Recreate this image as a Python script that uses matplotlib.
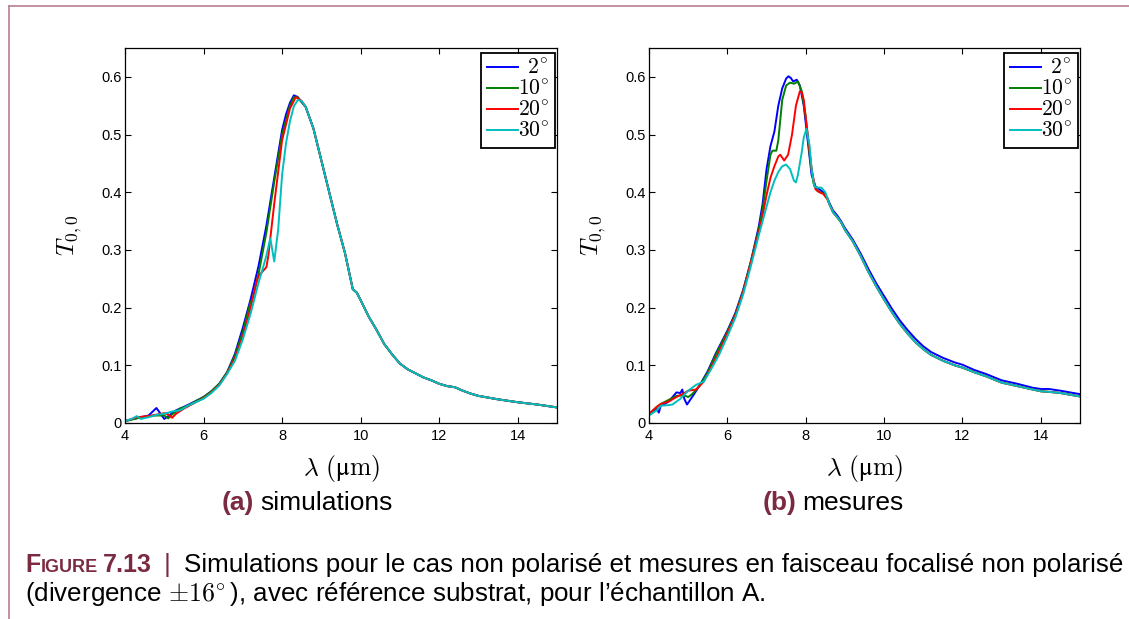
import numpy as np
import matplotlib
matplotlib.use("Agg")
import matplotlib.pyplot as plt
from matplotlib.lines import Line2D

plt.rcParams['font.family'] = ['Liberation Sans', 'DejaVu Sans']
plt.rcParams['mathtext.fontset'] = 'cm'

# ---- data ----
angles = ["2", "10", "20", "30"]
colors = ['#0000ff', '#007f00', '#ff0000', '#00bfbf']

# (a) simulations : common tail for x >= 8.6
sim_tail_x = [8.6, 8.8, 9.0, 9.2, 9.4, 9.6, 9.8, 9.9, 10.0, 10.2, 10.4, 10.6, 10.8, 11.0,
              11.2, 11.4, 11.6, 11.8, 12.0, 12.2, 12.4, 12.6, 12.8, 13.0, 13.5, 14.0, 14.5, 15.0]
sim_tail_y = [0.548, 0.51, 0.455, 0.40, 0.345, 0.295, 0.232, 0.226, 0.213, 0.185, 0.162, 0.137,
              0.119, 0.103, 0.093, 0.086, 0.079, 0.074, 0.068, 0.064, 0.062, 0.056, 0.051, 0.047,
              0.041, 0.036, 0.032, 0.027]

sim_2_x = [4.0, 4.2, 4.4, 4.6, 4.8, 5.0, 5.1, 5.3, 5.5, 5.8, 6.0, 6.2, 6.4, 6.6, 6.8, 7.0,
           7.2, 7.4, 7.6, 7.8, 8.0, 8.1, 8.2, 8.3, 8.4, 8.5]
sim_2_y = [0.003, 0.007, 0.01, 0.013, 0.026, 0.007, 0.012, 0.022, 0.028, 0.038, 0.045, 0.055,
           0.068, 0.088, 0.12, 0.165, 0.215, 0.272, 0.342, 0.425, 0.508, 0.535, 0.555, 0.568,
           0.565, 0.556]

sim_10_x = [4.0, 4.3, 4.6, 4.8, 5.0, 5.1, 5.2, 5.4, 5.6, 5.8, 6.0, 6.2, 6.4, 6.6, 6.8, 7.0,
            7.1, 7.2, 7.25, 7.4, 7.6, 7.8, 8.0, 8.2, 8.3, 8.4, 8.5]
sim_10_y = [0.003, 0.008, 0.012, 0.013, 0.013, 0.008, 0.015, 0.025, 0.03, 0.038, 0.045, 0.055,
            0.068, 0.088, 0.117, 0.158, 0.185, 0.21, 0.215, 0.258, 0.33, 0.418, 0.5, 0.55,
            0.565, 0.564, 0.556]

sim_20_x = [4.0, 4.3, 4.6, 5.0, 5.1, 5.2, 5.3, 5.5, 5.8, 6.0, 6.2, 6.4, 6.6, 6.8, 7.0, 7.2,
            7.35, 7.4, 7.6, 7.65, 7.7, 7.8, 8.0, 8.2, 8.35, 8.5]
sim_20_y = [0.003, 0.01, 0.012, 0.017, 0.015, 0.009, 0.016, 0.025, 0.036, 0.043, 0.053, 0.066,
            0.086, 0.112, 0.15, 0.2, 0.245, 0.255, 0.27, 0.29, 0.32, 0.38, 0.49, 0.545, 0.565,
            0.558]

sim_30_x = [4.0, 4.2, 4.3, 4.4, 4.6, 4.8, 5.0, 5.2, 5.4, 5.6, 5.8, 6.0, 6.2, 6.4, 6.6, 6.8,
            7.0, 7.2, 7.4, 7.5, 7.6, 7.7, 7.8, 7.9, 8.0, 8.1, 8.2, 8.3, 8.4, 8.5]
sim_30_y = [0.003, 0.008, 0.012, 0.007, 0.01, 0.014, 0.016, 0.02, 0.022, 0.03, 0.036, 0.042,
            0.052, 0.065, 0.085, 0.108, 0.145, 0.19, 0.243, 0.266, 0.29, 0.32, 0.28, 0.335,
            0.43, 0.485, 0.523, 0.549, 0.56, 0.558]

# (b) mesures
mes_tail_x = [8.6, 8.7, 8.8, 8.9, 9.0, 9.2, 9.4, 9.6, 9.8, 10.0, 10.2, 10.4, 10.6, 10.8, 11.0,
              11.2, 11.5, 11.8, 12.0, 12.3, 12.6, 13.0, 13.4, 13.8, 14.0, 14.2, 14.5, 15.0]
mes_tail_y = [0.38, 0.365, 0.357, 0.348, 0.335, 0.315, 0.29, 0.262, 0.237, 0.214, 0.192, 0.172,
              0.155, 0.14, 0.128, 0.118, 0.108, 0.1, 0.096, 0.088, 0.081, 0.07, 0.064, 0.058,
              0.055, 0.054, 0.052, 0.046]
mes_2_tail_y = [0.382, 0.368, 0.36, 0.35, 0.338, 0.318, 0.294, 0.267, 0.242, 0.22, 0.198, 0.178,
                0.161, 0.146, 0.133, 0.123, 0.113, 0.105, 0.101, 0.092, 0.085, 0.074, 0.068,
                0.061, 0.059, 0.059, 0.056, 0.05]

mes_2_x = [4.0, 4.1, 4.2, 4.25, 4.3, 4.4, 4.5, 4.6, 4.7, 4.8, 4.85, 4.9, 4.97, 5.05, 5.15, 5.3,
           5.5, 5.7, 6.0, 6.2, 6.4, 6.6, 6.8, 6.9, 7.0, 7.1, 7.2, 7.3, 7.4, 7.5, 7.56, 7.62,
           7.68, 7.77, 7.85, 7.95, 8.05, 8.15, 8.25, 8.35, 8.45, 8.55]
mes_2_y = [0.015, 0.02, 0.025, 0.018, 0.03, 0.033, 0.037, 0.045, 0.053, 0.052, 0.058, 0.042,
           0.032, 0.04, 0.05, 0.066, 0.09, 0.12, 0.16, 0.19, 0.23, 0.28, 0.34, 0.38, 0.44, 0.48,
           0.505, 0.55, 0.58, 0.597, 0.601, 0.598, 0.592, 0.595, 0.585, 0.55, 0.49, 0.43, 0.41,
           0.405, 0.4, 0.39]

mes_10_x = [4.0, 4.2, 4.3, 4.5, 4.7, 4.9, 5.0, 5.1, 5.3, 5.5, 5.7, 6.0, 6.2, 6.4, 6.6, 6.8,
            6.9, 7.0, 7.1, 7.15, 7.25, 7.3, 7.4, 7.5, 7.6, 7.7, 7.8, 7.9, 8.0, 8.1, 8.2, 8.3,
            8.45, 8.55]
mes_10_y = [0.015, 0.028, 0.033, 0.04, 0.047, 0.048, 0.045, 0.05, 0.065, 0.088, 0.118, 0.158,
            0.188, 0.228, 0.28, 0.335, 0.37, 0.42, 0.465, 0.472, 0.472, 0.49, 0.56, 0.585, 0.59,
            0.588, 0.592, 0.575, 0.53, 0.465, 0.415, 0.402, 0.398, 0.39]

mes_20_x = [4.0, 4.2, 4.3, 4.5, 4.7, 4.9, 5.0, 5.2, 5.4, 5.6, 5.8, 6.0, 6.2, 6.4, 6.6, 6.8,
            6.9, 7.0, 7.1, 7.2, 7.3, 7.35, 7.45, 7.55, 7.65, 7.75, 7.85, 7.9, 7.95, 8.05, 8.15,
            8.25, 8.35, 8.45, 8.55]
mes_20_y = [0.016, 0.028, 0.033, 0.037, 0.045, 0.052, 0.056, 0.058, 0.072, 0.098, 0.125, 0.155,
            0.186, 0.226, 0.278, 0.33, 0.36, 0.395, 0.425, 0.445, 0.462, 0.465, 0.455, 0.465,
            0.5, 0.55, 0.575, 0.573, 0.56, 0.5, 0.44, 0.405, 0.4, 0.397, 0.388]

mes_30_x = [4.0, 4.2, 4.3, 4.5, 4.6, 4.8, 5.0, 5.2, 5.4, 5.6, 5.8, 6.0, 6.2, 6.4, 6.6, 6.8,
            6.9, 7.0, 7.1, 7.2, 7.3, 7.4, 7.5, 7.6, 7.7, 7.75, 7.8, 7.9, 7.95, 8.02, 8.1, 8.15,
            8.22, 8.3, 8.4, 8.5]
mes_30_y = [0.013, 0.022, 0.03, 0.031, 0.032, 0.042, 0.056, 0.066, 0.072, 0.095, 0.12, 0.15,
            0.182, 0.222, 0.272, 0.325, 0.35, 0.375, 0.4, 0.42, 0.435, 0.445, 0.448, 0.44, 0.42,
            0.417, 0.43, 0.47, 0.495, 0.51, 0.48, 0.44, 0.41, 0.408, 0.408, 0.4]

sim_x = [sim_2_x, sim_10_x, sim_20_x, sim_30_x]
sim_y = [sim_2_y, sim_10_y, sim_20_y, sim_30_y]
mes_x = [mes_2_x, mes_10_x, mes_20_x, mes_30_x]
mes_y = [mes_2_y, mes_10_y, mes_20_y, mes_30_y]
mes_tails = [mes_2_tail_y, mes_tail_y, mes_tail_y, mes_tail_y]

xticks = [4, 6, 8, 10, 12, 14]
yticks = [0, 0.1, 0.2, 0.3, 0.4, 0.5, 0.6]
ytick_labels = ["0", "0.1", "0.2", "0.3", "0.4", "0.5", "0.6"]

W, H = 1129, 619
mauve = '#7b2b41'
frame_col = '#b87f8f'


def deg_label(a):
    # right aligned labels in the legend: pad one-digit angles with a digit-wide space
    pad = r"\enspace" if len(a) == 1 else ""
    return r"$%s%s^{\!\circ}$" % (pad, a)


fig = plt.figure(figsize=(W / 100, H / 100), dpi=100)
ax_a = fig.add_axes([125 / W, 1 - 423 / H, 432 / W, 375 / H])
ax_b = fig.add_axes([649 / W, 1 - 423 / H, 431 / W, 375 / H])

for i in range(4):
    ax_a.plot(sim_x[i] + sim_tail_x, sim_y[i] + sim_tail_y, color=colors[i], lw=1.4,
              label=deg_label(angles[i]))
    ax_b.plot(mes_x[i] + mes_tail_x, mes_y[i] + mes_tails[i], color=colors[i], lw=1.4,
              label=deg_label(angles[i]))

for ax in (ax_a, ax_b):
    ax.set_xlim(4, 15)
    ax.set_ylim(0, 0.65)
    ax.set_xticks(xticks)
    ax.set_xticklabels([str(v) for v in xticks])
    ax.set_yticks(yticks)
    ax.set_yticklabels(ytick_labels)
    ax.tick_params(direction='in', top=True, right=True, length=4, width=0.8,
                   labelsize=10.5, colors='black')
    ax.tick_params(axis='x', pad=4)
    ax.tick_params(axis='y', pad=2.5)
    for sp in ax.spines.values():
        sp.set_linewidth(0.9)
    ax.set_xlabel(r"$\lambda\ (\mathrm{μm})$", fontsize=18.5)
    ax.xaxis.set_label_coords(0.5, -0.08)
    ax.set_ylabel(r"$T_{0,0}$", fontsize=18)
    ax.yaxis.set_label_coords(-0.095, 0.5)
    leg = ax.legend(loc='upper right', bbox_to_anchor=(0.9954, 0.9867), borderaxespad=0,
                    fontsize=15.5, handlelength=1.45, handletextpad=0.0, labelspacing=0.0,
                    borderpad=0.25, fancybox=False, framealpha=1, edgecolor='black')
    leg.get_frame().set_linewidth(1.3)

# page frame
fig.add_artist(Line2D([9.3 / W, 1], [1 - 5.7 / H, 1 - 5.7 / H], transform=fig.transFigure,
                      color=frame_col, lw=1.2))
fig.add_artist(Line2D([9.3 / W, 9.3 / W], [1 - 5.7 / H, 0], transform=fig.transFigure,
                      color=frame_col, lw=1.2))

renderer = fig.canvas.get_renderer()


def put_pieces(x0, y_base, pieces):
    # pieces: (text, size, weight, colour, gap or absolute x of next piece)
    x = x0
    for s, size, weight, col, nxt in pieces:
        t = fig.text(x / W, 1 - y_base / H, s, fontsize=size, fontweight=weight, color=col,
                     va='baseline', ha='left')
        if isinstance(nxt, tuple):
            x = nxt[0]
        else:
            x = t.get_window_extent(renderer).x1 + nxt
    return x


def sub_caption(xc, y_base, tag, label):
    # measure width first then center
    t1 = fig.text(0, 0, tag, fontsize=19, fontweight='bold')
    t2 = fig.text(0, 0, label, fontsize=19)
    w = t1.get_window_extent(renderer).width + 6 + t2.get_window_extent(renderer).width
    t1.remove()
    t2.remove()
    put_pieces(xc - w / 2, y_base, [(tag, 19, 'bold', mauve, 6), (label, 19, 'normal', 'black', 0)])


sub_caption(307, 510, "(a)", "simulations")
sub_caption(833, 510, "(b)", "mesures")

cap_size = 18.7
put_pieces(25, 572, [("F", 18, 'bold', mauve, 0.5),
                     ("IGURE", 13, 'bold', mauve, 5),
                     ("7.13", 18, 'bold', mauve, (164,)),
                     ("|", cap_size, 'normal', mauve, (184,)),
                     ("Simulations pour le cas non polarisé et mesures en faisceau focalisé non polarisé",
                      cap_size, 'normal', 'black', 0)])
put_pieces(25, 601, [("(divergence $\\pm16^{\\!\\circ}$), avec référence substrat, pour l’échantillon A.",
                      cap_size, 'normal', 'black', 0)])

fig.savefig("out.png", dpi=100)
